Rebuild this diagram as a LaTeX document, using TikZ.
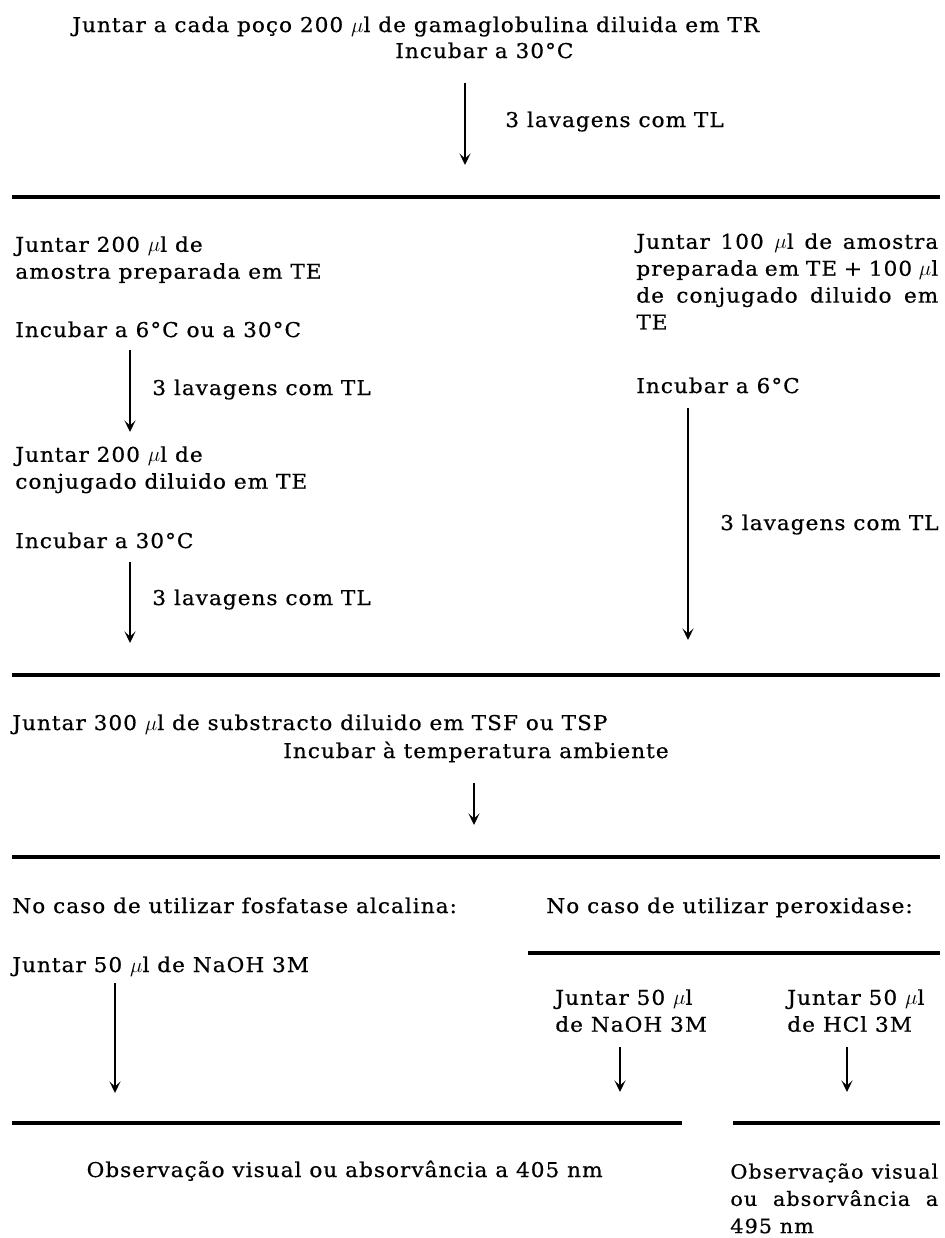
\documentclass[tikz,border=0pt]{standalone}
\usepackage{fontspec}
\setmainfont{DejaVu Serif}[FakeStretch=1.06, LetterSpace=5, FakeBold=0.6]
\usepackage{tikz}
\usetikzlibrary{arrows.meta}
\newcommand{\txtfont}{\fontsize{11.6}{15.3}\selectfont}
\newcommand{\fillline}[2]{\makebox[#1][s]{#2}}
\tikzset{
    txt/.style={inner sep=0pt, anchor=base west, font=\txtfont},
    blk/.style={inner sep=0pt, anchor=north west, align=left, font=\txtfont},
    rule/.style={line width=2.4pt},
    flow/.style={->, line width=1.3pt}
}

\begin{document}
\begin{tikzpicture}[x=0.02cm, y=-0.02cm, >={Stealth[length=2.3mm, width=2.2mm, inset=1mm]}]
    \useasboundingbox (0,0) rectangle (945,1238);
    % --- gamaglobulina ---
    \node[txt] (gama) at (72,32) {Juntar a cada poço 200 $\mu$l de gamaglobulina diluida em TR};
    \node[txt] (incA) at (395,58) {Incubar a 30°C};
    \coordinate (aS) at (465,83); \coordinate (aE) at (465,165);
    \draw[flow] (aS) -- (aE);
    \node[txt] (lavA) at (505,127) {3 lavagens com TL};
    \draw[rule] (12,197) -- (940,197);
    % --- left column ---
    \node[blk] (amostraL) at (15,236) {Juntar 200 $\mu$l de\\amostra preparada em TE};
    \node[txt] (incL1) at (15,337) {Incubar a 6°C ou a 30°C};
    \coordinate (bS) at (130,350); \coordinate (bE) at (130,432);
    \draw[flow] (bS) -- (bE);
    \node[txt] (lavL1) at (152,395) {3 lavagens com TL};
    \node[blk] (conjL) at (15,446) {Juntar 200 $\mu$l de\\conjugado diluido em TE};
    \node[txt] (incL2) at (15,548) {Incubar a 30°C};
    \coordinate (cS) at (130,562); \coordinate (cE) at (130,643);
    \draw[flow] (cS) -- (cE);
    \node[txt] (lavL2) at (152,605) {3 lavagens com TL};
    % --- right column ---
    \node[blk] (amostraR) at (636,233) {\fillline{6.04cm}{Juntar 100 $\mu$l de amostra}\\
        \fillline{6.04cm}{preparada em TE + 100 $\mu$l}\\
        \fillline{6.04cm}{de conjugado diluido em}\\TE};
    \node[txt] (incR) at (636,393) {Incubar a 6°C};
    \coordinate (dS) at (688,408); \coordinate (dE) at (688,640);
    \draw[flow] (dS) -- (dE);
    \node[txt, anchor=base east] (lavR) at (939,530) {3 lavagens com TL};
    \draw[rule] (12,675) -- (940,675);
    % --- substracto ---
    \node[txt] (subst) at (12,730) {Juntar 300 $\mu$l de substracto diluido em TSF ou TSP};
    \node[txt] (incAmb) at (283,758) {Incubar à temperatura ambiente};
    \coordinate (eS) at (474,783); \coordinate (eE) at (474,825);
    \draw[flow] (eS) -- (eE);
    \draw[rule] (12,857) -- (940,857);
    % --- paragem ---
    \node[txt] (fosf) at (12,913) {No caso de utilizar fosfatase alcalina:};
    \node[txt] (perox) at (546,913) {No caso de utilizar peroxidase:};
    \draw[rule] (528,953) -- (940,953);
    \node[txt] (naohL) at (12,972) {Juntar 50 $\mu$l de NaOH 3M};
    \coordinate (fS) at (115,983); \coordinate (fE) at (115,1093);
    \draw[flow] (fS) -- (fE);
    \node[blk] (naohR) at (555,989) {Juntar 50 $\mu$l\\de NaOH 3M};
    \coordinate (gS) at (620,1047); \coordinate (gE) at (620,1092);
    \draw[flow] (gS) -- (gE);
    \node[blk] (hcl) at (787,989) {Juntar 50 $\mu$l\\de HCl 3M};
    \coordinate (hS) at (847,1047); \coordinate (hE) at (847,1092);
    \draw[flow] (hS) -- (hE);
    \draw[rule] (12,1123) -- (682,1123);
    \draw[rule] (733,1123) -- (940,1123);
    % --- leitura ---
    \node[txt, anchor=base east] (obs405) at (603,1177) {Observação visual ou absorvância a 405 nm};
    \node[blk, font=\fontsize{11.2}{15.5}\selectfont] (obs495) at (730,1163) {\fillline{4.16cm}{Observação visual}\\
        \fillline{4.16cm}{ou absorvância a}\\495 nm};
\end{tikzpicture}
\end{document}
